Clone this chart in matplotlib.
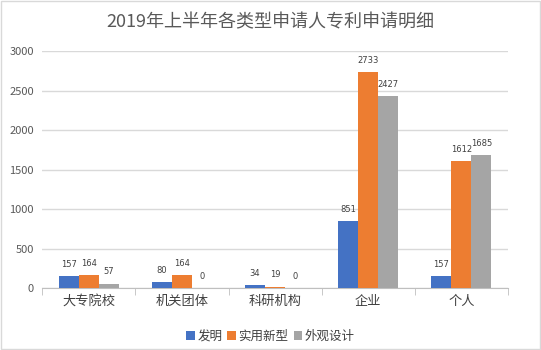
import matplotlib
matplotlib.use("Agg")
import matplotlib.pyplot as plt
from matplotlib.patches import Rectangle
import numpy as np

plt.rcParams['font.family'] = ['Noto Sans CJK SC', 'DejaVu Sans']

categories = ["大专院校", "机关团体", "科研机构", "企业", "个人"]
series_names = ["发明", "实用新型", "外观设计"]
invention = [157, 80, 34, 851, 157]
utility = [164, 164, 19, 2733, 1612]
design = [57, 0, 0, 2427, 1685]
colors = ["#4472C4", "#ED7D31", "#A5A5A5"]
yticks = [0, 500, 1000, 1500, 2000, 2500, 3000]

fig = plt.figure(figsize=(5.41, 3.5), dpi=100)
ax = fig.add_axes([0.078, 0.177, 0.861, 0.677])

x = np.arange(len(categories))
w = 0.215
for i, (vals, name) in enumerate(zip([invention, utility, design], series_names)):
    pos = x + (i - 1) * w
    ax.bar(pos, vals, width=w, color=colors[i], label=name, zorder=3)
    for p, v in zip(pos, vals):
        ax.text(p, v + 90, str(v), ha='center', va='bottom', fontsize=6, color='#404040',
                family='DejaVu Sans')

ax.set_xlim(-0.5, len(categories) - 0.5)
ax.set_ylim(0, 3000)
ax.set_yticks(yticks)
ax.set_yticklabels([str(t) for t in yticks], fontsize=8, color='#595959')
ax.yaxis.grid(True, color='#D9D9D9', linewidth=1, zorder=0)
ax.set_axisbelow(True)
ax.tick_params(axis='y', length=0, pad=6)
ax.set_xticks(x)
ax.set_xticklabels(categories, fontsize=9.5, color='#404040')
ax.tick_params(axis='x', length=0, pad=5)
# boundary tick marks
ax.set_xticks(np.arange(-0.5, len(categories), 1), minor=True)
ax.tick_params(axis='x', which='minor', length=5, color='#BFBFBF')
for s in ['top', 'right', 'left']:
    ax.spines[s].set_visible(False)
ax.spines['bottom'].set_color('#BFBFBF')

fig.text(0.5, 0.937, "2019年上半年各类型申请人专利申请明细", ha='center', va='center',
         fontsize=13, color='#595959')

ax.legend(loc='upper center', bbox_to_anchor=(0.49, -0.13), ncol=3, frameon=False,
          fontsize=9, handlelength=0.7, handleheight=0.7, handletextpad=0.2,
          columnspacing=0.4, labelcolor='#404040')

fig.patches.append(Rectangle((0.002, 0.003), 0.996, 0.994, transform=fig.transFigure,
                             fill=False, edgecolor='#D9D9D9', linewidth=1))

fig.savefig("out.png", dpi=100)
